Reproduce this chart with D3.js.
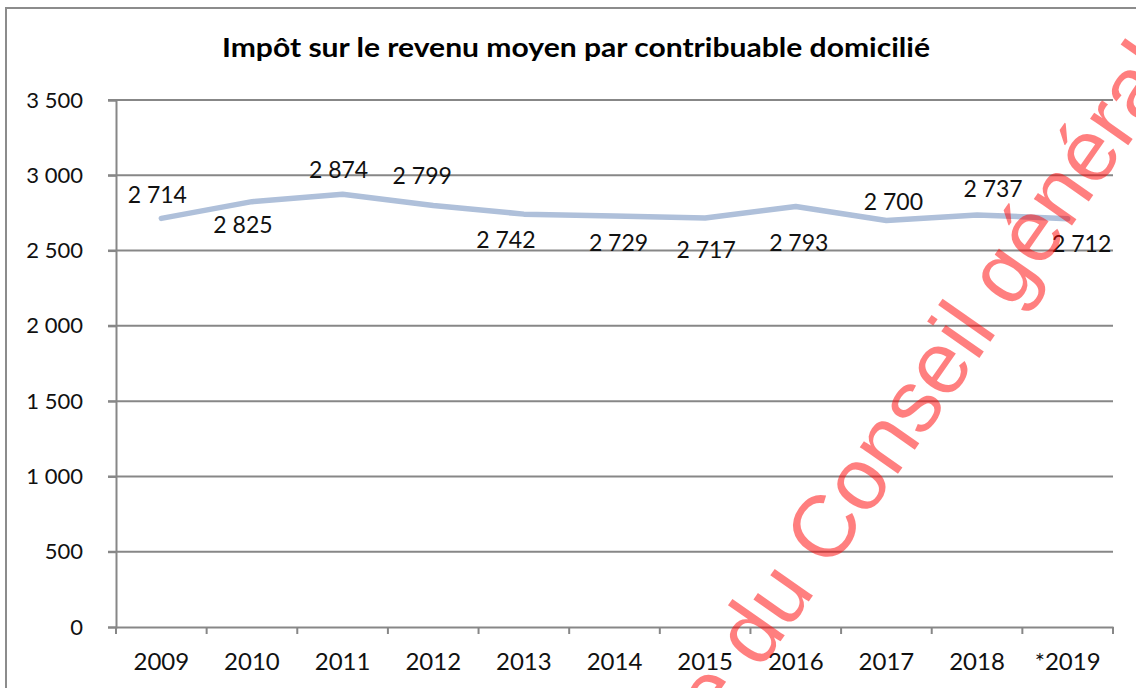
<!DOCTYPE html>
<html>
<head>
<meta charset="utf-8">
<script src="https://cdn.jsdelivr.net/npm/d3@7"></script>
<style>
  html, body { margin: 0; padding: 0; background: #fff; }
  svg { display: block; }
</style>
</head>
<body>
<svg id="chart" width="1136" height="688"></svg>
<script>
// ---- data ----
const categories = ["2009","2010","2011","2012","2013","2014","2015","2016","2017","2018","*2019"];
const values = [2714, 2825, 2874, 2799, 2742, 2729, 2717, 2793, 2700, 2737, 2712];
const yTicks = [0, 500, 1000, 1500, 2000, 2500, 3000, 3500];
const title = "Impôt sur le revenu moyen par contribuable domicilié";
// label placement (dx, dy of baseline relative to point)
const labelOffsets = [[-4,-15],[-9,31],[-4,-16],[-11,-22],[-18,34],[4,35],[1,40],[3,45],[7,-10],[16,-18],[14,33]];

const fmt = v => d3.format(",")(v).replace(/,/g, " ");

const svg = d3.select("#chart");
const W = 1136, H = 688;
const pL = 116, pR = 1113, pT = 100, pB = 627;
const FONT = "Lato, 'Open Sans', sans-serif";

// frame
svg.append("rect").attr("x", 6).attr("y", 8).attr("width", W + 10).attr("height", H + 10)
  .attr("fill", "#fff").attr("stroke", "#8c8c8c").attr("stroke-width", 2);

const x = d3.scaleBand().domain(categories).range([pL, pR]).paddingInner(0).paddingOuter(0);
const y = d3.scaleLinear().domain([0, 3500]).range([pB, pT]);

// title
svg.append("text").attr("x", 576).attr("y", 57).attr("text-anchor", "middle")
  .attr("font-family", FONT).attr("font-weight", "bold")
  .attr("font-size", 26).attr("fill", "#000")
  .attr("textLength", 708).attr("lengthAdjust", "spacingAndGlyphs")
  .text(title);

// gridlines
svg.append("g").selectAll("line").data(yTicks.filter(d => d > 0)).join("line")
  .attr("x1", pL - 8).attr("x2", pR)
  .attr("y1", d => y(d)).attr("y2", d => y(d))
  .attr("stroke", "#878787").attr("stroke-width", 2);

// y axis
const yAxis = d3.axisLeft(y).tickValues(yTicks).tickSize(8).tickPadding(25).tickFormat(fmt);
const gy = svg.append("g").attr("transform", `translate(${pL},0)`).call(yAxis);
gy.select(".domain").attr("stroke", "#878787").attr("stroke-width", 2);
gy.selectAll(".tick line").attr("stroke", "#878787").attr("stroke-width", 2);
gy.selectAll(".tick text").attr("font-family", FONT)
  .attr("font-size", 22).attr("fill", "#111");

// x axis
const xAxis = d3.axisBottom(x).tickSize(0).tickPadding(26);
const gx = svg.append("g").attr("transform", `translate(0,${pB})`).call(xAxis);
gx.select(".domain").attr("stroke", "#878787").attr("stroke-width", 2);
gx.selectAll(".tick text").attr("font-family", FONT)
  .attr("font-size", 24).attr("fill", "#111");
// category boundary ticks
const bounds = categories.map(c => x(c)).concat([x(categories[categories.length - 1]) + x.bandwidth()]);
svg.append("g").selectAll("line").data(bounds).join("line")
  .attr("x1", d => d).attr("x2", d => d).attr("y1", pB).attr("y2", pB + 7)
  .attr("stroke", "#878787").attr("stroke-width", 2);

// line
const cx = c => x(c) + x.bandwidth() / 2;
const line = d3.line().x((d, i) => cx(categories[i])).y(d => y(d));
svg.append("path").datum(values).attr("d", line)
  .attr("fill", "none").attr("stroke", "#afc0da").attr("stroke-width", 5.5)
  .attr("stroke-linecap", "round").attr("stroke-linejoin", "round");

// data labels
svg.append("g").selectAll("text").data(values).join("text")
  .attr("x", (d, i) => cx(categories[i]) + labelOffsets[i][0])
  .attr("y", (d, i) => y(d) + labelOffsets[i][1])
  .attr("text-anchor", "middle")
  .attr("font-family", FONT).attr("font-size", 23).attr("fill", "#111")
  .text(d => fmt(d));

// watermark
const wm = svg.append("g").attr("transform", "translate(830,571) rotate(-55)")
  .attr("font-family", "'Liberation Sans', Arial, sans-serif").attr("font-size", 88)
  .attr("fill", "#ff0000").attr("fill-opacity", 0.5);
wm.append("text").attr("x", -24).attr("y", 0).attr("text-anchor", "end").text("Archive du");
wm.append("text").attr("x", 0).attr("y", 0).attr("text-anchor", "start").text("Conseil général");
</script>
</body>
</html>
